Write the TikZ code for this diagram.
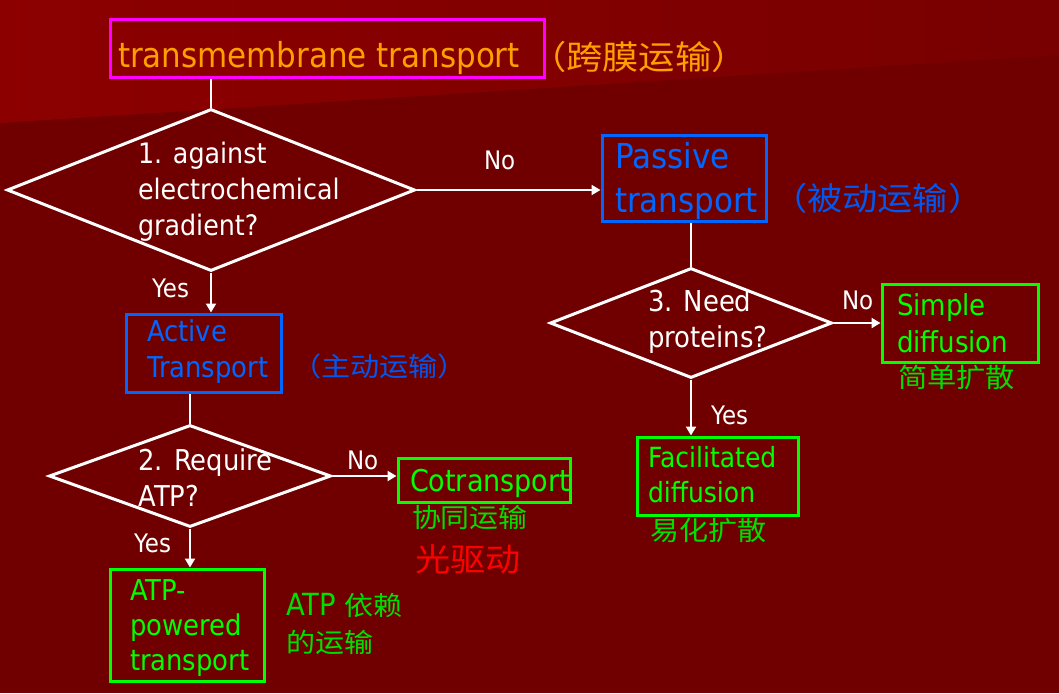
\documentclass[tikz,border=0pt]{standalone}
\usepackage{fontspec}
\setmainfont{DejaVu Sans}[FakeStretch=0.9]
\newfontfamily\cjk{Noto Sans CJK SC}[FakeStretch=1.1]
\usetikzlibrary{shapes.geometric,arrows.meta}
\definecolor{bgc}{HTML}{700000}
\definecolor{bgtopl}{HTML}{8C0000}
\definecolor{bgtopr}{HTML}{780000}
\definecolor{mag}{HTML}{FF00FF}
\definecolor{orng}{HTML}{FFA000}
\definecolor{blu}{HTML}{0066FF}
\definecolor{bluc}{HTML}{0058F0}
\definecolor{grn}{HTML}{00FF00}
\definecolor{grnc}{HTML}{00E000}
\definecolor{rd}{HTML}{FF0000}
\newcommand\mylines[1]{\begin{tabular}[t]{@{}l@{}}#1\end{tabular}}
\tikzset{
  box/.style={draw, rectangle, line width=3pt, inner sep=0pt},
  dia/.style={draw=white, diamond, line width=3pt, inner sep=0pt},
  conn/.style={draw=white, line width=2.8pt},
  arr/.style={conn, -{Triangle[length=9pt,width=10pt]}},
  txt/.style={anchor=base west, inner sep=0pt, outer sep=0pt, text=white},
  lbl/.style={txt, font=\fontsize{25.5}{30}\selectfont},
  cn/.style={anchor=base west, inner sep=0pt, outer sep=0pt},
}
\begin{document}
\begin{tikzpicture}[x=1pt,y=-1pt]
\useasboundingbox (0,0) rectangle (1059,693);
\fill[bgc] (0,0) rectangle (1059,693);
\shade[left color=bgtopl, right color=bgtopr] (0,0) -- (1059,0) -- (1059,55) -- (0,123) -- cycle;

% boxes
\node[box, draw=mag, minimum width=434pt, minimum height=57pt] (title) at (327,48.5) {};
\node[box, draw=blu, minimum width=164pt, minimum height=86pt] (passive) at (684,178) {};
\node[box, draw=blu, minimum width=155pt, minimum height=78pt] (active) at (203.5,353) {};
\node[box, draw=grn, minimum width=156pt, minimum height=78pt] (simple) at (960,323) {};
\node[box, draw=grn, minimum width=161pt, minimum height=78pt] (facil) at (717.5,476) {};
\node[box, draw=grn, minimum width=172pt, minimum height=44pt] (cotr) at (484,480) {};
\node[box, draw=grn, minimum width=154pt, minimum height=112pt] (atp) at (187,625) {};

% diamonds
\node[dia, minimum width=408pt, minimum height=162pt] (d1) at (211,190) {};
\node[dia, minimum width=282pt, minimum height=110pt] (d3) at (691,323) {};
\node[dia, minimum width=282pt, minimum height=102pt] (d2) at (190,476) {};

% connectors
\draw[conn] (d1.north) -- (d1.north |- title.south);
\draw[arr] (d1.east) -- (d1.east -| passive.west);
\draw[conn] (d3.north) -- (d3.north |- passive.south);
\draw[arr] (d3.east) -- (d3.east -| simple.west);
\draw[arr] (d3.south) -- (d3.south |- facil.north);
\draw[arr] (d1.south) -- (d1.south |- active.north);
\draw[conn] (d2.north) -- (d2.north |- active.south);
\draw[arr] (d2.east) -- (d2.east -| cotr.west);
\draw[arr] (d2.south) -- (d2.south |- atp.north);

% texts
\node[txt, text=orng, font=\fontsize{34.4}{40}\selectfont] (ttitle) at (118,67) {transmembrane transport};
\node[cn, text=orng, font=\cjk\fontsize{33}{36}\selectfont] (ctitle) at (530,69) {（跨膜运输）};

\node[txt, font=\fontsize{28.2}{36}\selectfont] (t1) at (138,163) {\mylines{1. against\\electrochemical\\gradient?}};
\node[lbl] (no1) at (484,169) {No};
\node[txt, text=blu, font=\fontsize{34.4}{44}\selectfont] (tpassive) at (615,168) {\mylines{Passive\\transport}};
\node[cn, text=bluc, font=\cjk\fontsize{32}{36}\selectfont] (cpassive) at (772,210) {（被动运输）};

\node[lbl] (yes1) at (152,297) {Yes};
\node[txt, text=blu, font=\fontsize{28.7}{36}\selectfont] (tactive) at (147,341) {\mylines{Active\\Transport}};
\node[cn, text=bluc, font=\cjk\fontsize{26.5}{30}\selectfont] (cactive) at (292,376) {（主动运输）};

\node[txt, font=\fontsize{28.8}{36}\selectfont] (t3) at (648,311) {\mylines{3. Need\\proteins?}};
\node[lbl] (no3) at (842,309) {No};
\node[txt, text=grn, font=\fontsize{28.9}{37}\selectfont] (tsimple) at (897,315) {\mylines{Simple\\diffusion}};
\node[cn, text=grnc, font=\cjk\fontsize{26.6}{30}\selectfont] (csimple) at (898,387) {简单扩散};
\node[lbl] (yes3) at (711,424) {Yes};
\node[txt, text=grn, font=\fontsize{27.8}{35.5}\selectfont] (tfacil) at (648,467) {\mylines{Facilitated\\diffusion}};
\node[cn, text=grnc, font=\cjk\fontsize{26.4}{30}\selectfont] (cfacil) at (650,540) {易化扩散};

\node[txt, font=\fontsize{28.7}{36}\selectfont] (t2) at (138.5,470) {\mylines{2. Require\\ATP?}};
\node[lbl] (no2) at (347,469) {No};
\node[txt, text=grn, font=\fontsize{30}{34}\selectfont] (tcotr) at (410,491) {Cotransport};
\node[cn, text=grnc, font=\cjk\fontsize{26.3}{30}\selectfont] (ccotr) at (412,527) {协同运输};
\node[cn, text=rd, font=\cjk\fontsize{32}{36}\selectfont] (light) at (415,571) {光驱动};
\node[lbl] (yes2) at (134,552) {Yes};
\node[txt, text=grn, font=\fontsize{28.7}{35}\selectfont] (tatp) at (130,600) {\mylines{ATP-\\powered\\transport}};
\node[cn, text=grnc, font=\fontsize{30.5}{37}\selectfont] (catp) at (286,615) {\mylines{ATP {\cjk\fontsize{26.4}{37}\selectfont 依赖}\\{\cjk\fontsize{26.4}{37}\selectfont 的运输}}};
\end{tikzpicture}
\end{document}
